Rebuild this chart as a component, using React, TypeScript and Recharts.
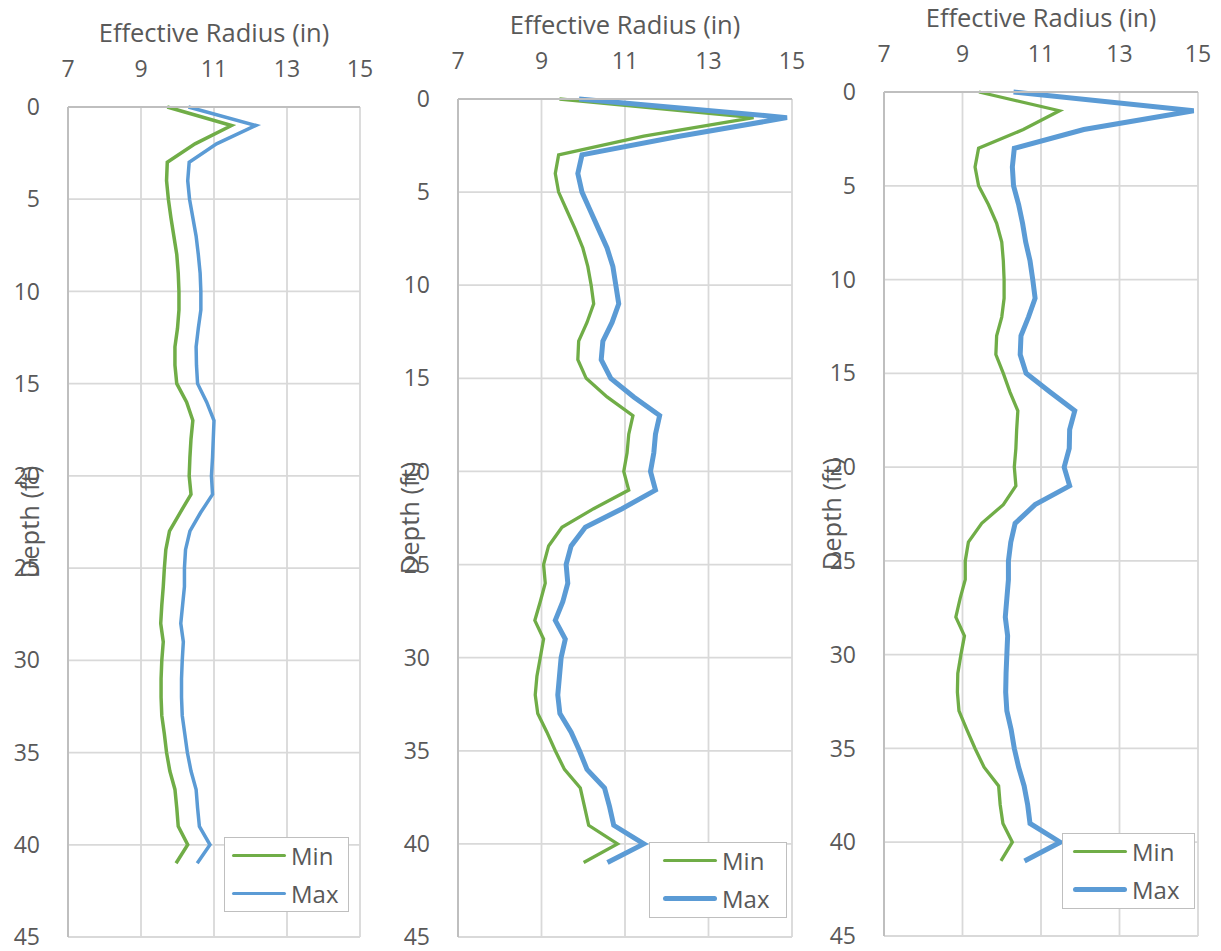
import React from "react";
import {
  LineChart,
  Line,
  XAxis,
  YAxis,
  CartesianGrid,
  Legend,
} from "recharts";

// Depth (ft) for every reading, shared by the three logs
const DEPTH = [
  0, 1, 2, 3, 4, 5, 6, 7, 8, 9, 10, 11, 12, 13, 14, 15, 16, 17, 18, 19, 20,
  21, 22, 23, 24, 25, 26, 27, 28, 29, 30, 31, 32, 33, 34, 35, 36, 37, 38, 39,
  40, 41,
];

// Log 1
const MIN_1 = [
  9.72, 11.48, 10.48, 9.72, 9.7, 9.75, 9.82, 9.9, 9.98, 10.02, 10.04, 10.04,
  10.0, 9.93, 9.93, 9.98, 10.25, 10.42, 10.37, 10.34, 10.32, 10.37, 10.07,
  9.78, 9.68, 9.64, 9.61, 9.57, 9.54, 9.61, 9.57, 9.55, 9.55, 9.57, 9.64, 9.7,
  9.79, 9.93, 9.98, 10.02, 10.28, 9.96,
];
const MAX_1 = [
  10.3, 12.15, 11.07, 10.32, 10.28, 10.33, 10.42, 10.51, 10.57, 10.62, 10.64,
  10.64, 10.57, 10.51, 10.52, 10.55, 10.8, 11.0, 10.98, 10.96, 10.93, 10.96,
  10.63, 10.34, 10.22, 10.19, 10.19, 10.14, 10.09, 10.16, 10.13, 10.11, 10.11,
  10.13, 10.2, 10.27, 10.37, 10.51, 10.55, 10.6, 10.89, 10.54,
];

// Log 2
const MIN_2 = [
  9.43, 14.08, 11.45, 9.41, 9.33, 9.41, 9.61, 9.81, 9.99, 10.11, 10.19, 10.25,
  10.09, 9.89, 9.87, 10.07, 10.57, 11.19, 11.09, 11.05, 10.97, 11.09, 10.25,
  9.49, 9.17, 9.05, 9.09, 8.97, 8.84, 9.05, 8.97, 8.89, 8.85, 8.91, 9.13, 9.33,
  9.55, 9.93, 10.03, 10.13, 10.82, 10.01,
];
const MAX_2 = [
  9.9, 14.88, 12.3, 9.97, 9.87, 9.97, 10.17, 10.37, 10.57, 10.71, 10.78, 10.85,
  10.69, 10.47, 10.43, 10.66, 11.21, 11.83, 11.73, 11.69, 11.61, 11.73, 10.93,
  10.05, 9.71, 9.59, 9.63, 9.51, 9.33, 9.57, 9.47, 9.43, 9.39, 9.44, 9.71,
  9.91, 10.09, 10.51, 10.63, 10.73, 11.45, 10.58,
];

// Log 3
const MIN_3 = [
  9.42, 11.47, 10.55, 9.41, 9.32, 9.41, 9.66, 9.87, 10.0, 10.04, 10.06, 10.06,
  10.0, 9.87, 9.85, 10.04, 10.21, 10.41, 10.38, 10.36, 10.32, 10.36, 10.04,
  9.49, 9.15, 9.07, 9.07, 8.94, 8.83, 9.05, 8.96, 8.88, 8.87, 8.91, 9.11, 9.32,
  9.55, 9.92, 9.96, 10.03, 10.27, 9.98,
];
const MAX_3 = [
  10.3, 14.89, 12.09, 10.32, 10.27, 10.3, 10.43, 10.53, 10.61, 10.72, 10.79,
  10.85, 10.68, 10.49, 10.47, 10.62, 11.23, 11.86, 11.73, 11.72, 11.59, 11.73,
  10.85, 10.34, 10.23, 10.17, 10.17, 10.13, 10.09, 10.15, 10.13, 10.11, 10.1,
  10.13, 10.24, 10.32, 10.43, 10.57, 10.66, 10.72, 11.49, 10.58,
];

const X_TICKS = [7, 9, 11, 13, 15];
const Y_TICKS = [0, 5, 10, 15, 20, 25, 30, 35, 40, 45];

const GREEN = "#70AD47";
const BLUE = "#5B9BD5";
const TEXT = "#595959";
const FONT = "'Open Sans', sans-serif";

type Row = { depth: number; min: number; max: number };

const toRows = (mins: number[], maxs: number[]): Row[] =>
  DEPTH.map((d, i) => ({ depth: d, min: mins[i], max: maxs[i] }));

interface LegendProps {
  w: number;
  h: number;
  padLeft: number;
  minWidth: number;
  maxWidth: number;
}

function LegendBox({ w, h, padLeft, minWidth, maxWidth }: LegendProps) {
  const items = [
    { name: "Min", color: GREEN, sw: minWidth, y: 19 },
    { name: "Max", color: BLUE, sw: maxWidth, y: 57 },
  ];
  return (
    <div
      style={{
        position: "relative",
        width: w,
        height: h,
        boxSizing: "border-box",
        border: "1.5px solid #BFBFBF",
        background: "#fff",
      }}
    >
      {items.map((it) => (
        <div key={it.name}>
          <div
            style={{
              position: "absolute",
              left: padLeft - 1.5,
              top: it.y - 1.5 - it.sw / 2,
              width: 54,
              height: it.sw,
              borderRadius: it.sw / 2,
              background: it.color,
            }}
          />
          <div
            style={{
              position: "absolute",
              left: padLeft + 58,
              top: it.y - 1.5 - 17,
              fontFamily: FONT,
              fontSize: 24,
              lineHeight: "34px",
              color: TEXT,
            }}
          >
            {it.name}
          </div>
        </div>
      ))}
    </div>
  );
}

interface PanelProps {
  rows: Row[];
  left: number;
  width: number;
  axisW: number;
  plotTop: number;
  bottom: number;
  right: number;
  minWidth: number;
  maxWidth: number;
  legend: { left: number; top: number; w: number; h: number; pad: number };
}

function Panel(p: PanelProps) {
  return (
    <div style={{ position: "absolute", left: p.left, top: 0 }}>
      <LineChart
        layout="vertical"
        width={p.width}
        height={951}
        data={p.rows}
        margin={{ top: 0, right: p.right, bottom: p.bottom, left: 0 }}
      >
        <CartesianGrid stroke="#D9D9D9" strokeWidth={1.8} />
        <XAxis
          type="number"
          orientation="top"
          domain={[7, 15]}
          ticks={X_TICKS}
          interval={0}
          height={p.plotTop}
          tickSize={0}
          tickMargin={30}
          axisLine={{ stroke: "#BFBFBF", strokeWidth: 2 }}
          tick={{ fill: TEXT, fontSize: 23, fontFamily: FONT }}
          label={{
            value: "Effective Radius (in)",
            position: "insideTop",
            offset: p.plotTop - 83,
            fill: TEXT,
            fontSize: 25.5,
            fontFamily: FONT,
          }}
        />
        <YAxis
          type="number"
          dataKey="depth"
          domain={[0, 45]}
          ticks={Y_TICKS}
          interval={0}
          width={p.axisW}
          tickSize={0}
          tickMargin={28}
          axisLine={{ stroke: "#BFBFBF", strokeWidth: 2 }}
          tick={{ fill: TEXT, fontSize: 23, fontFamily: FONT }}
          label={{
            value: "Depth (ft)",
            angle: -90,
            position: "center",
            dx: 30 - p.axisW / 2,
            fill: TEXT,
            fontSize: 25.5,
            fontFamily: FONT,
          }}
        />
        <Line
          type="linear"
          dataKey="min"
          name="Min"
          stroke={GREEN}
          strokeWidth={p.minWidth}
          dot={false}
          isAnimationActive={false}
        />
        <Line
          type="linear"
          dataKey="max"
          name="Max"
          stroke={BLUE}
          strokeWidth={p.maxWidth}
          dot={false}
          isAnimationActive={false}
        />
        <Legend
          layout="vertical"
          align="center"
          verticalAlign="middle"
          wrapperStyle={{
            left: p.legend.left,
            top: p.legend.top,
            width: p.legend.w,
            height: p.legend.h,
          }}
          content={() => (
            <LegendBox
              w={p.legend.w}
              h={p.legend.h}
              padLeft={p.legend.pad}
              minWidth={p.minWidth}
              maxWidth={p.maxWidth}
            />
          )}
        />
      </LineChart>
    </div>
  );
}

export default function App() {
  return (
    <div
      style={{
        position: "absolute",
        left: 0,
        top: 0,
        width: 1221,
        height: 951,
        background: "#fff",
      }}
    >
      <Panel
        rows={toRows(MIN_1, MAX_1)}
        left={0}
        width={380}
        axisW={68}
        plotTop={107}
        bottom={14}
        right={20}
        minWidth={3.5}
        maxWidth={3.5}
        legend={{ left: 224, top: 837, w: 125, h: 75, pad: 8 }}
      />
      <Panel
        rows={toRows(MIN_2, MAX_2)}
        left={380}
        width={430}
        axisW={78}
        plotTop={99}
        bottom={14}
        right={18}
        minWidth={3.3}
        maxWidth={5}
        legend={{ left: 269, top: 842, w: 138, h: 76, pad: 14 }}
      />
      <Panel
        rows={toRows(MIN_3, MAX_3)}
        left={802}
        width={419}
        axisW={82}
        plotTop={92}
        bottom={15}
        right={23}
        minWidth={3.3}
        maxWidth={5}
        legend={{ left: 260, top: 833, w: 133, h: 76, pad: 11 }}
      />
    </div>
  );
}
